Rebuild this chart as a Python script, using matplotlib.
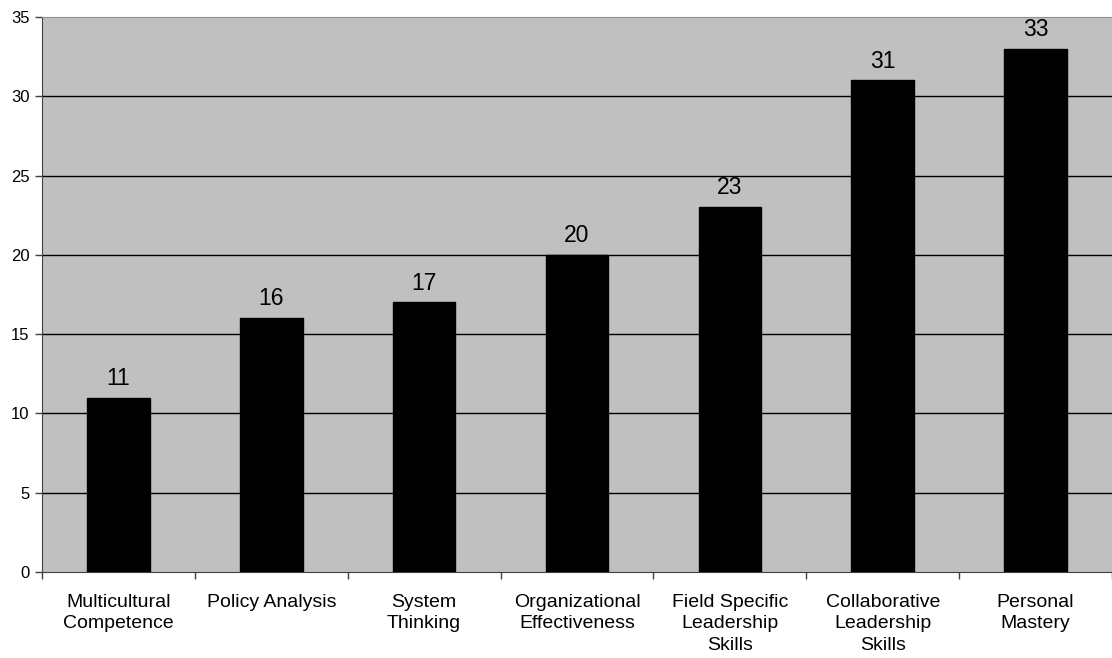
import numpy as np
import matplotlib.pyplot as plt

plt.rcParams['font.family'] = ['Liberation Sans', 'DejaVu Sans']

categories = ['Multicultural\nCompetence', 'Policy Analysis', 'System\nThinking',
              'Organizational\nEffectiveness', 'Field Specific\nLeadership\nSkills',
              'Collaborative\nLeadership\nSkills', 'Personal\nMastery']
counts = [11, 16, 17, 20, 23, 31, 33]

fig = plt.figure(figsize=(11.12, 6.58), dpi=100)
ax = fig.add_axes([42 / 1112, 86 / 658, 1070 / 1112, 555 / 658])
ax.set_facecolor('#c0c0c0')

x = np.arange(len(counts))
bars = ax.bar(x, counts, width=0.41, color='black', edgecolor='black', zorder=3)

# value above each bar
for xi, v in zip(x, counts):
    ax.text(xi, v + 0.5, str(v), ha='center', va='bottom', fontsize=16.5, zorder=4)

ax.set_xlim(-0.5, len(counts) - 0.5)
ax.set_ylim(0, 35)
ax.set_yticks(range(0, 36, 5))
for yv in range(5, 35, 5):
    ax.axhline(yv, color='black', lw=1, zorder=2)

# separators between categories as major ticks, labels on minor ticks
ax.set_xticks(np.arange(-0.5, len(counts), 1.0))
ax.set_xticklabels([])
ax.set_xticks(x, minor=True)
ax.set_xticklabels(categories, minor=True, fontsize=14, linespacing=1.37)
ax.tick_params(axis='x', which='minor', length=0, pad=15.5)
ax.tick_params(axis='x', which='major', length=5, width=1, color='#404040')
ax.tick_params(axis='y', length=5, width=1, color='#404040', labelsize=12, pad=4)

ax.spines['right'].set_visible(False)
ax.spines['top'].set_color('#909090')
ax.spines['left'].set_color('#404040')
ax.spines['bottom'].set_color('#404040')

fig.savefig('out.png', dpi=100)
